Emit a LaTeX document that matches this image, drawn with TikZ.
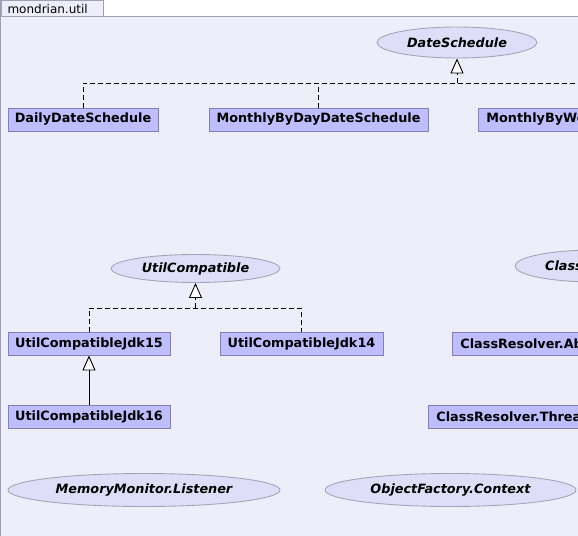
\documentclass[tikz,border=0pt]{standalone}
\usepackage{fontspec}
\setmainfont{DejaVu Sans}
\usetikzlibrary{arrows.meta,shapes.geometric}
\definecolor{bodyfill}{RGB}{238,238,251}
\definecolor{framecol}{RGB}{160,160,180}
\definecolor{boxfill}{RGB}{190,190,255}
\definecolor{boxdraw}{RGB}{128,128,180}
\definecolor{ellfill}{RGB}{222,222,248}
\definecolor{elldraw}{RGB}{165,165,185}
\tikzset{
  cls/.style={rectangle, draw=boxdraw, fill=boxfill, line width=0.9bp, inner sep=0pt,
    minimum height=23bp, font=\fontsize{12.8bp}{15bp}\selectfont\bfseries},
  clsw/.style={cls, anchor=west, inner xsep=8bp},
  intf/.style={ellipse, draw=elldraw, fill=ellfill, line width=0.9bp, inner sep=0pt,
    font=\fontsize{12.8bp}{15bp}\selectfont\bfseries\itshape},
  realize/.style={dashed, dash pattern=on 5bp off 3bp, line width=0.9bp, black},
  inherit/.style={line width=0.9bp, black},
  tip/.style={-{Triangle[open, fill=white, length=15bp, width=13bp, line width=0.9bp]}},
}
\begin{document}
\begin{tikzpicture}[x=1bp, y=-1bp]
\useasboundingbox (0,0) rectangle (578,536);
\clip (0,0) rectangle (578,536);
% frame
\node[draw=framecol, fill=bodyfill, line width=1bp, text width=89bp, minimum height=17bp,
  inner xsep=6.5bp, inner ysep=0pt, anchor=north west, align=left,
  font=\fontsize{12bp}{14bp}\selectfont] (tab) at (0.5,0.5) {mondrian.util};
\fill[bodyfill] (0.5,17) rectangle (600,600);
\draw[framecol, line width=1bp] (0.5,600) -- (0.5,17) -- (600,17);
% DateSchedule group
\node[intf, minimum width=160bp, minimum height=31bp] (ds) at (457,42.5) {DateSchedule};
\node[cls, minimum width=150bp] (daily) at (83,119.5) {DailyDateSchedule};
\node[cls, minimum width=219bp] (mbd) at (318.5,119.5) {MonthlyByDayDateSchedule};
\node[clsw] (mbw) at (478,119.5) {MonthlyByWeekDayDateSchedule};
\coordinate (dsj) at (457,83);
\draw[realize] (daily.north) |- (mbw.north |- dsj) -- (mbw.north);
\draw[realize] (mbd.north) -- (mbd.north |- dsj);
\draw[realize, tip] (dsj) -- (ds.south);
% UtilCompatible group
\node[intf, minimum width=169bp, minimum height=28bp] (uc) at (195.5,268.5) {UtilCompatible};
\node[cls, minimum width=162bp] (j15) at (89,343.5) {UtilCompatibleJdk15};
\node[cls, minimum width=163bp] (j14) at (301.5,343.5) {UtilCompatibleJdk14};
\node[cls, minimum width=162bp] (j16) at (89,416.5) {UtilCompatibleJdk16};
\coordinate (ucj) at (195.5,308);
\draw[realize] (j15.north) |- (ucj -| j14.north) -- (j14.north);
\draw[realize, tip] (ucj) -- (uc.south);
\draw[inherit, tip] (j16.north) -- (j15.south);
% ClassResolver group
\node[intf, minimum width=160bp, minimum height=32bp] (cr) at (595,266) {ClassResolver};
\node[clsw] (cra) at (452,343.5) {ClassResolver.AbstractClassResolver};
\node[clsw] (crt) at (428,416.5) {ClassResolver.ThreadContextClassResolver};
% bottom interfaces
\node[intf, minimum width=272bp, minimum height=33bp] (mml) at (144,490) {MemoryMonitor.Listener};
\node[intf, minimum width=251bp, minimum height=33bp] (ofc) at (450.5,490) {ObjectFactory.Context};
\end{tikzpicture}
\end{document}
